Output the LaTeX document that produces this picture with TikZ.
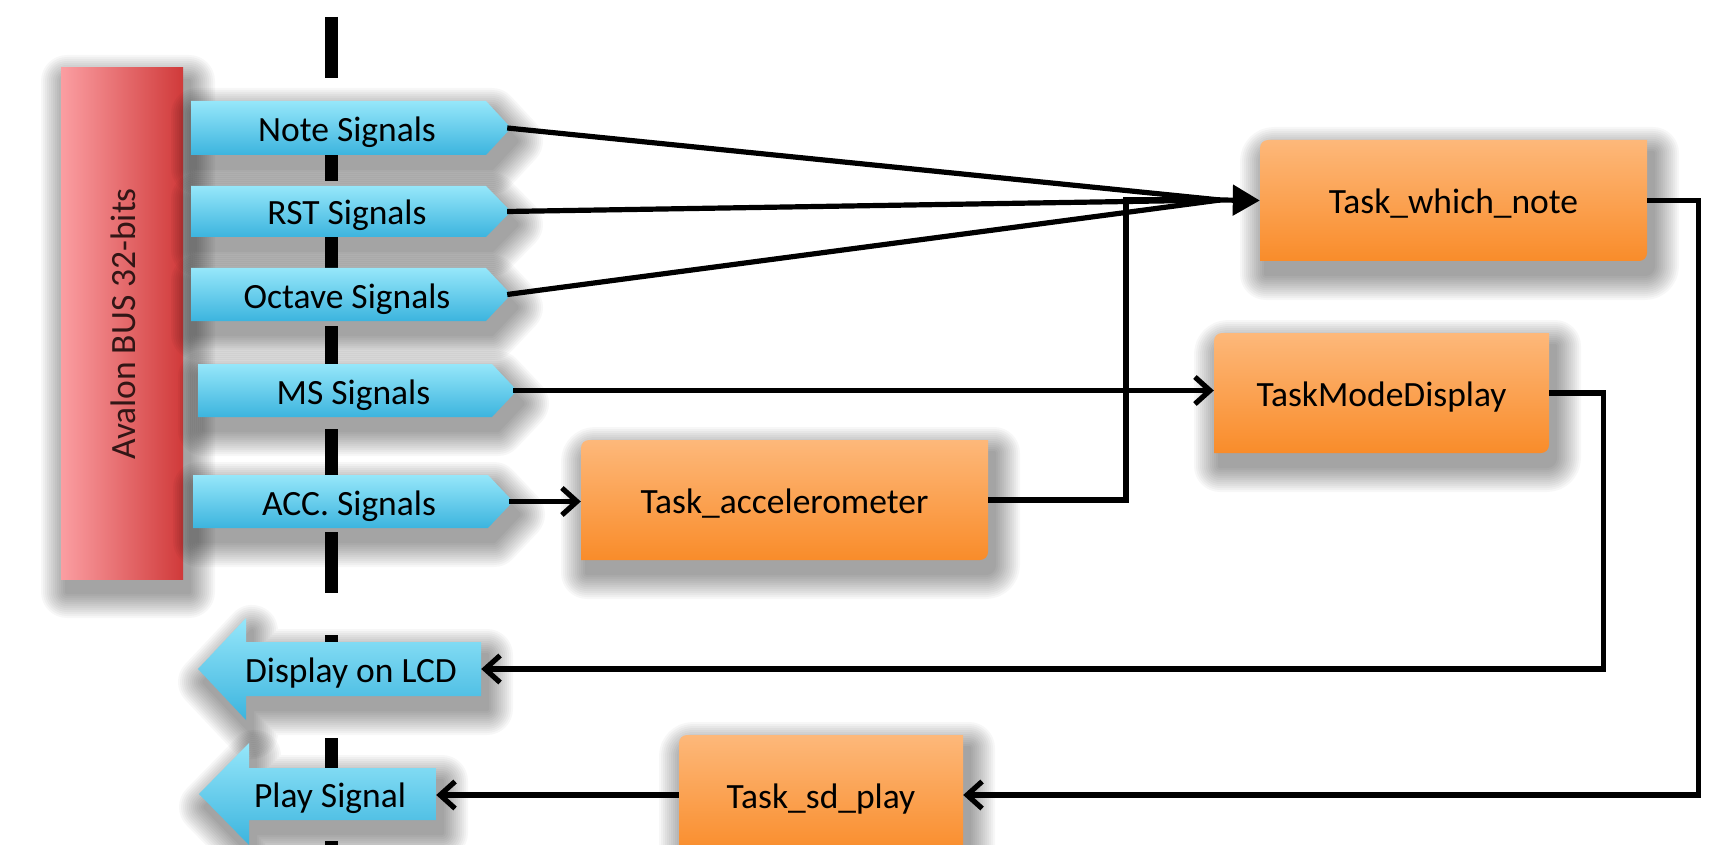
\documentclass[tikz,border=0pt]{standalone}
\usepackage{fontspec}
\setmainfont{Carlito}
\usetikzlibrary{arrows.meta}
\definecolor{orTop}{RGB}{253,184,122}
\definecolor{orBot}{RGB}{249,140,42}
\definecolor{blTop}{RGB}{150,231,250}
\definecolor{blBot}{RGB}{60,180,222}
\definecolor{rdL}{RGB}{251,158,162}
\definecolor{rdR}{RGB}{208,58,58}
\definecolor{busText}{RGB}{50,22,22}
\tikzset{
  conn/.style={line width=5.2pt, black},
  openhead/.style={-{Straight Barb[length=15pt,width=27pt]}},
  orfill/.style={top color=orTop, bottom color=orBot},
  blfill/.style={top color=blTop, bottom color=blBot},
  lbl/.style={font=\fontsize{35.5}{40}\selectfont, inner sep=0pt, text=black,
              text height=31pt, text depth=4pt},
}
% soft shadow of the path stored in style 'cur'
\newcommand\softshadow{%
  \foreach \w in {4,8,...,52}{%
    \begin{scope}[transparency group, opacity=0.03]
      \path[shift={(6,13)}, fill=black, draw=black, line join=round, line width=\w pt, cur];
    \end{scope}}}
% task box: name, x1, y1, x2, y2, text
\newcommand\taskbox[6]{%
  \tikzset{cur/.style={insert path={(#2,#5) -- (#2,#3+8) arc[start angle=180,end angle=90,radius=8pt]
     -- (#4,#3) -- (#4,#5-8) arc[start angle=0,end angle=-90,radius=8pt] -- cycle}}}%
  \softshadow
  \path[orfill, cur];
  \node[lbl, minimum width={(#4-#2)*1pt}, minimum height={(#5-#3)*1pt}] (#1)
     at ({(#2+#4)/2},{(#3+#5)/2}) {#6};}
% right signal: name, x1, y1, x2, y2, text
\newcommand\rsig[6]{%
  \tikzset{cur/.style={insert path={(#2,#3) -- (#4-25,#3) -- (#4,{(#3+#5)/2}) -- (#4-25,#5) -- (#2,#5) -- cycle}}}%
  \softshadow
  \path[blfill, cur];
  \node[lbl, minimum width={(#4-#2)*1pt}, minimum height={(#5-#3)*1pt}] (#1)
     at ({(#2+#4)/2-4},{(#3+#5)/2}) {#6};}
% left signal: name, tipx, headx, rightx, ymid, headhalf, bodyhalf, text
\newcommand\lsig[8]{%
  \tikzset{cur/.style={insert path={(#2,#5) -- (#3,#5-#6) -- (#3,#5-#7) -- (#4,#5-#7) -- (#4,#5+#7)
     -- (#3,#5+#7) -- (#3,#5+#6) -- cycle}}}%
  \softshadow
  \path[blfill, cur];
  \node[lbl, minimum width={(#4-#3+25)*1pt}, minimum height={(2*#7)*1pt}] (#1)
     at ({(#3-25+#4)/2},#5) {#8};}
\begin{document}
\begin{tikzpicture}[x=1pt,y=-1pt]
\useasboundingbox[fill=white] (0,0) rectangle (1714,845);
% dashed boundary
\draw[line width=13pt, dash pattern=on 61pt off 42pt] (331,17) -- (331,850);
% bus
\tikzset{cur/.style={insert path={(61,68) rectangle (183,579)}}}
\softshadow
\path[left color=rdL, right color=rdR, cur];
\node[lbl, rotate=90, text=busText] (bus) at (122,324) {Avalon BUS 32-bits};
% input signals
\rsig{note}{191}{101}{511}{155}{Note Signals}
\rsig{rst}{191}{186}{511}{237}{RST Signals}
\rsig{oct}{191}{268}{511}{321}{Octave Signals}
\rsig{ms}{198}{364}{517}{417}{MS Signals}
\rsig{acc}{193}{475}{513}{528}{ACC. Signals}
% output signals
\lsig{disp}{198}{246}{481}{669}{51}{27}{Display on LCD}
\lsig{play}{199}{249}{436}{794}{51}{26}{Play Signal}
% tasks
\taskbox{twn}{1260}{140}{1647}{261}{Task\_which\_note}
\taskbox{tmd}{1214}{333}{1549}{453}{TaskModeDisplay}
\taskbox{tacc}{581}{440}{988}{560}{Task\_accelerometer}
\taskbox{tsd}{679}{735}{963}{855}{Task\_sd\_play}
% connectors
\coordinate (conv) at (1220,200);
\coordinate (accup) at (1126,200);
\draw[conn] (note.east) -- (conv);
\draw[conn] (rst.east) -- (conv);
\draw[conn] (oct.east) -- (conv);
\draw[conn] (tacc.east) -| (accup) -- (conv);
\draw[conn, -{Triangle[length=27pt,width=30pt]}] (conv) -- (twn.west);
\draw[conn, openhead] (ms.east) -- (ms.east -| tmd.west);
\draw[conn, openhead] (acc.east) -- (acc.east -| tacc.west);
\draw[conn, openhead] (twn.east) -- ++(51,0) |- (tsd.east);
\draw[conn, openhead] (tmd.east) -- ++(54,0) |- (disp.east);
\draw[conn, openhead] (tsd.west) -- (tsd.west -| play.east);
\end{tikzpicture}
\end{document}
